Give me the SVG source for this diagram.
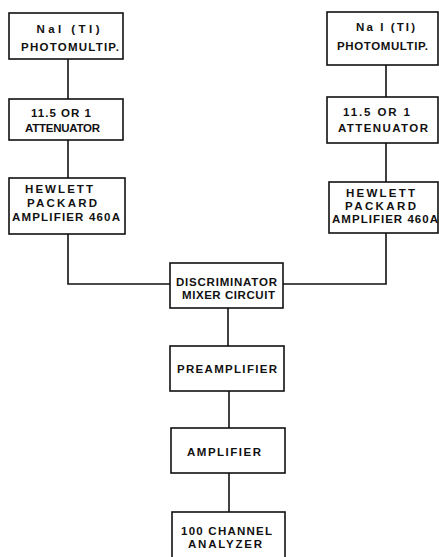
<svg xmlns="http://www.w3.org/2000/svg" width="439" height="557" viewBox="0 0 439 557">
<style>
.box{fill:#fff;stroke:#111;stroke-width:1.6}
.wire{fill:none;stroke:#111;stroke-width:1.6}
text{font-family:"Liberation Sans","DejaVu Sans",sans-serif;font-weight:bold;font-size:11.5px;fill:#111;text-anchor:middle}
</style>
<rect width="439" height="557" fill="#fff"/>
<g id="connectors">
<path class="wire" d="M68 59V99"/>
<path class="wire" d="M68 140V178"/>
<path class="wire" d="M68 234V284H170"/>
<path class="wire" d="M386 65V97"/>
<path class="wire" d="M386 143V182"/>
<path class="wire" d="M386 233V284H283"/>
<path class="wire" d="M228 308V346"/>
<path class="wire" d="M229 391V428"/>
<path class="wire" d="M229 473V512"/>
</g>
<g id="nai-left">
<rect class="box" x="9" y="13" width="114" height="46"/>
<text x="68" y="33" textLength="63" lengthAdjust="spacing">NaI (TI)</text>
<text x="70" y="51" textLength="98" lengthAdjust="spacing">PHOTOMULTIP.</text>
</g>
<g id="atten-left">
<rect class="box" x="9" y="99" width="114" height="41"/>
<text x="61" y="117" textLength="60" lengthAdjust="spacing">11.5 OR 1</text>
<text x="62.5" y="132" textLength="75" lengthAdjust="spacing">ATTENUATOR</text>
</g>
<g id="hp-left">
<rect class="box" x="9" y="178" width="116" height="56"/>
<text x="59" y="193" textLength="68" lengthAdjust="spacing">HEWLETT</text>
<text x="62" y="207" textLength="70" lengthAdjust="spacing">PACKARD</text>
<text x="66" y="221" textLength="108" lengthAdjust="spacing">AMPLIFIER 460A</text>
</g>
<g id="nai-right">
<rect class="box" x="327" y="12" width="111" height="53"/>
<text x="385.5" y="31" textLength="59" lengthAdjust="spacing">Na I (TI)</text>
<text x="382.5" y="50" textLength="91" lengthAdjust="spacing">PHOTOMULTIP.</text>
</g>
<g id="atten-right">
<rect class="box" x="327" y="97" width="111" height="46"/>
<text x="376.5" y="116" textLength="67" lengthAdjust="spacing">11.5 OR 1</text>
<text x="383" y="132" textLength="90" lengthAdjust="spacing">ATTENUATOR</text>
</g>
<g id="hp-right">
<rect class="box" x="329" y="182" width="109" height="51"/>
<text x="380.5" y="197" textLength="69" lengthAdjust="spacing">HEWLETT</text>
<text x="380.5" y="210" textLength="71" lengthAdjust="spacing">PACKARD</text>
<text x="385" y="223" textLength="106" lengthAdjust="spacing">AMPLIFIER 460A</text>
</g>
<g id="discriminator">
<rect class="box" x="170" y="263" width="113" height="45"/>
<text x="226.5" y="286" textLength="101" lengthAdjust="spacing">DISCRIMINATOR</text>
<text x="228.5" y="299" textLength="93" lengthAdjust="spacing">MIXER CIRCUIT</text>
</g>
<g id="preamplifier">
<rect class="box" x="170" y="346" width="114" height="45"/>
<text x="227" y="373" textLength="100" lengthAdjust="spacing">PREAMPLIFIER</text>
</g>
<g id="amplifier">
<rect class="box" x="171" y="428" width="114" height="45"/>
<text x="224" y="456" textLength="74" lengthAdjust="spacing">AMPLIFIER</text>
</g>
<g id="analyzer">
<rect class="box" x="172" y="512" width="113" height="46"/>
<text x="226.5" y="535" textLength="91" lengthAdjust="spacing">100 CHANNEL</text>
<text x="225" y="548" textLength="74" lengthAdjust="spacing">ANALYZER</text>
</g>
</svg>
